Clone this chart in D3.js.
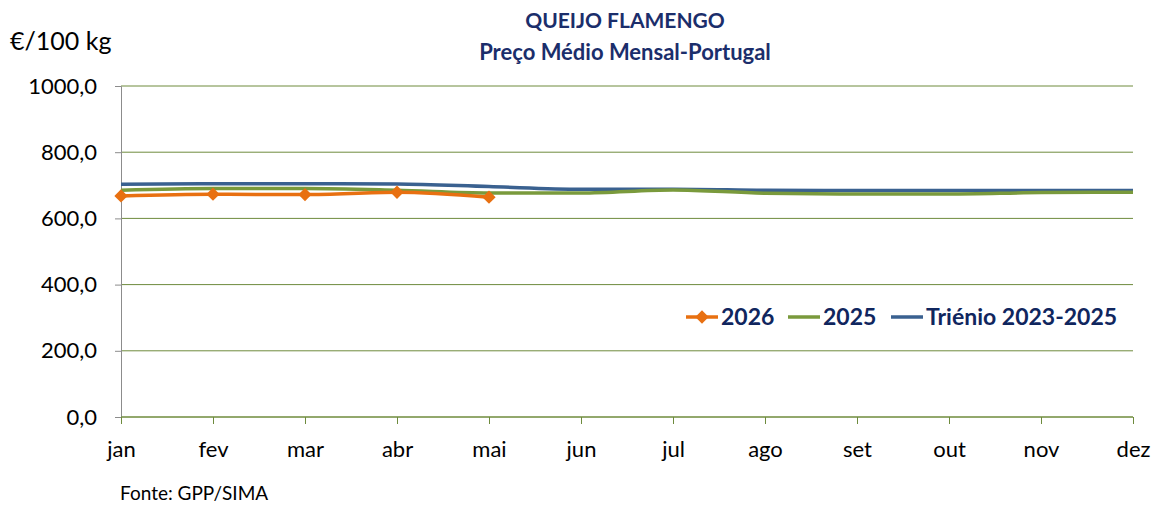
<!DOCTYPE html>
<meta charset="utf-8">
<script src="https://d3js.org/d3.v7.min.js"></script>
<style>
  body { margin: 0; background: #fff; }
  text { font-family: Lato, "Open Sans", sans-serif; }
</style>
<div id="my_dataviz"></div>
<script>

// data
var months = ["jan","fev","mar","abr","mai","jun","jul","ago","set","out","nov","dez"];
var v2026 = [668, 673, 672, 679, 664];
var v2025 = [685, 690, 690, 685, 677, 677, 686, 676, 674, 674, 678, 679];
var trienio = [703, 705, 705, 704, 696, 688, 688, 685, 684, 684, 684, 684];
var yTicks = [0, 200, 400, 600, 800, 1000];

var W = 1157, H = 506;
var margin = {top: 86, right: 24, bottom: 89, left: 121},
    width = 1133 - margin.left,
    height = 417 - margin.top;

var svg = d3.select("#my_dataviz")
  .append("svg")
    .attr("width", W)
    .attr("height", H);

var g = svg.append("g")
    .attr("transform", "translate(" + margin.left + "," + margin.top + ")");

var x = d3.scalePoint().domain(months).range([0, width]);
var y = d3.scaleLinear().domain([0, 1000]).range([height, 0]);

// grid lines
g.selectAll("line.grid")
  .data(yTicks)
  .enter().append("line")
    .attr("x1", 0).attr("x2", width)
    .attr("y1", function(d) { return y(d); })
    .attr("y2", function(d) { return y(d); })
    .attr("stroke", "#6E8B3D")
    .attr("stroke-width", 1);

// y axis
var yAxis = g.append("g")
  .call(d3.axisLeft(y).tickValues(yTicks).tickSize(6).tickPadding(18)
    .tickFormat(function(d) { return d3.format(".1f")(d).replace(".", ","); }));
yAxis.select(".domain").attr("stroke", "#8C8C8C");
yAxis.selectAll(".tick line").attr("stroke", "#8C8C8C");
yAxis.selectAll("text").style("font-size", "22px").attr("fill", "#000")
  .style("font-family", "Lato, sans-serif");

// x axis
var xAxis = g.append("g")
  .attr("transform", "translate(0," + height + ")")
  .call(d3.axisBottom(x).tickSize(7).tickPadding(17));
xAxis.select(".domain").attr("stroke", "#6E8B3D").attr("d", "M0,0H" + width);
xAxis.selectAll(".tick line").attr("stroke", "#6E8B3D");
xAxis.selectAll("text").style("font-size", "22px").attr("fill", "#000")
  .style("font-family", "Lato, sans-serif");

// lines
var line = d3.line()
  .x(function(d, i) { return x(months[i]); })
  .y(function(d) { return y(d); })
  .curve(d3.curveMonotoneX);

g.append("path").datum(trienio)
  .attr("fill", "none").attr("stroke", "#3A6190").attr("stroke-width", 3.5)
  .attr("d", line);
g.append("path").datum(v2025)
  .attr("fill", "none").attr("stroke", "#7A9A3C").attr("stroke-width", 3.5)
  .attr("d", line);
g.append("path").datum(v2026)
  .attr("fill", "none").attr("stroke", "#E87011").attr("stroke-width", 3.5)
  .attr("d", line);

// squat diamond marker (square turned 45 degrees)
var diamond = d3.symbol().type(d3.symbolSquare).size(88);
g.selectAll("path.pt")
  .data(v2026)
  .enter().append("path")
    .attr("transform", function(d, i) { return "translate(" + x(months[i]) + "," + y(d) + ") rotate(45)"; })
    .attr("d", diamond)
    .attr("fill", "#E87011");

// title
svg.append("text").attr("x", 625).attr("y", 28).attr("text-anchor", "middle")
  .style("font-size", "21px").style("font-weight", "bold").attr("fill", "#1B2E6B")
  .text("QUEIJO FLAMENGO");
svg.append("text").attr("x", 625).attr("y", 60).attr("text-anchor", "middle")
  .style("font-size", "22px").style("font-weight", "bold").attr("fill", "#1B2E6B")
  .text("Preço Médio Mensal-Portugal");

// units
svg.append("text").attr("x", 10).attr("y", 50)
  .style("font-size", "25px").attr("fill", "#000").text("€/100 kg");

// source
svg.append("text").attr("x", 120).attr("y", 500)
  .style("font-size", "19px").attr("fill", "#000").text("Fonte: GPP/SIMA");

// legend
var legend = [
  {name: "2026", color: "#E87011", marker: true, x: 686},
  {name: "2025", color: "#7A9A3C", marker: false, x: 788},
  {name: "Triénio 2023-2025", color: "#3A6190", marker: false, x: 891}
];
var lg = svg.append("g");
legend.forEach(function(l) {
  lg.append("line").attr("x1", l.x).attr("x2", l.x + 32)
    .attr("y1", 317).attr("y2", 317)
    .attr("stroke", l.color).attr("stroke-width", 3.5);
  if (l.marker) {
    lg.append("path").attr("transform", "translate(" + (l.x + 16) + ",317) rotate(45)")
      .attr("d", diamond).attr("fill", l.color);
  }
  lg.append("text").attr("x", l.x + 35).attr("y", 325)
    .style("font-size", "23px").style("font-weight", "bold").attr("fill", "#10265E")
    .text(l.name);
});

</script>
